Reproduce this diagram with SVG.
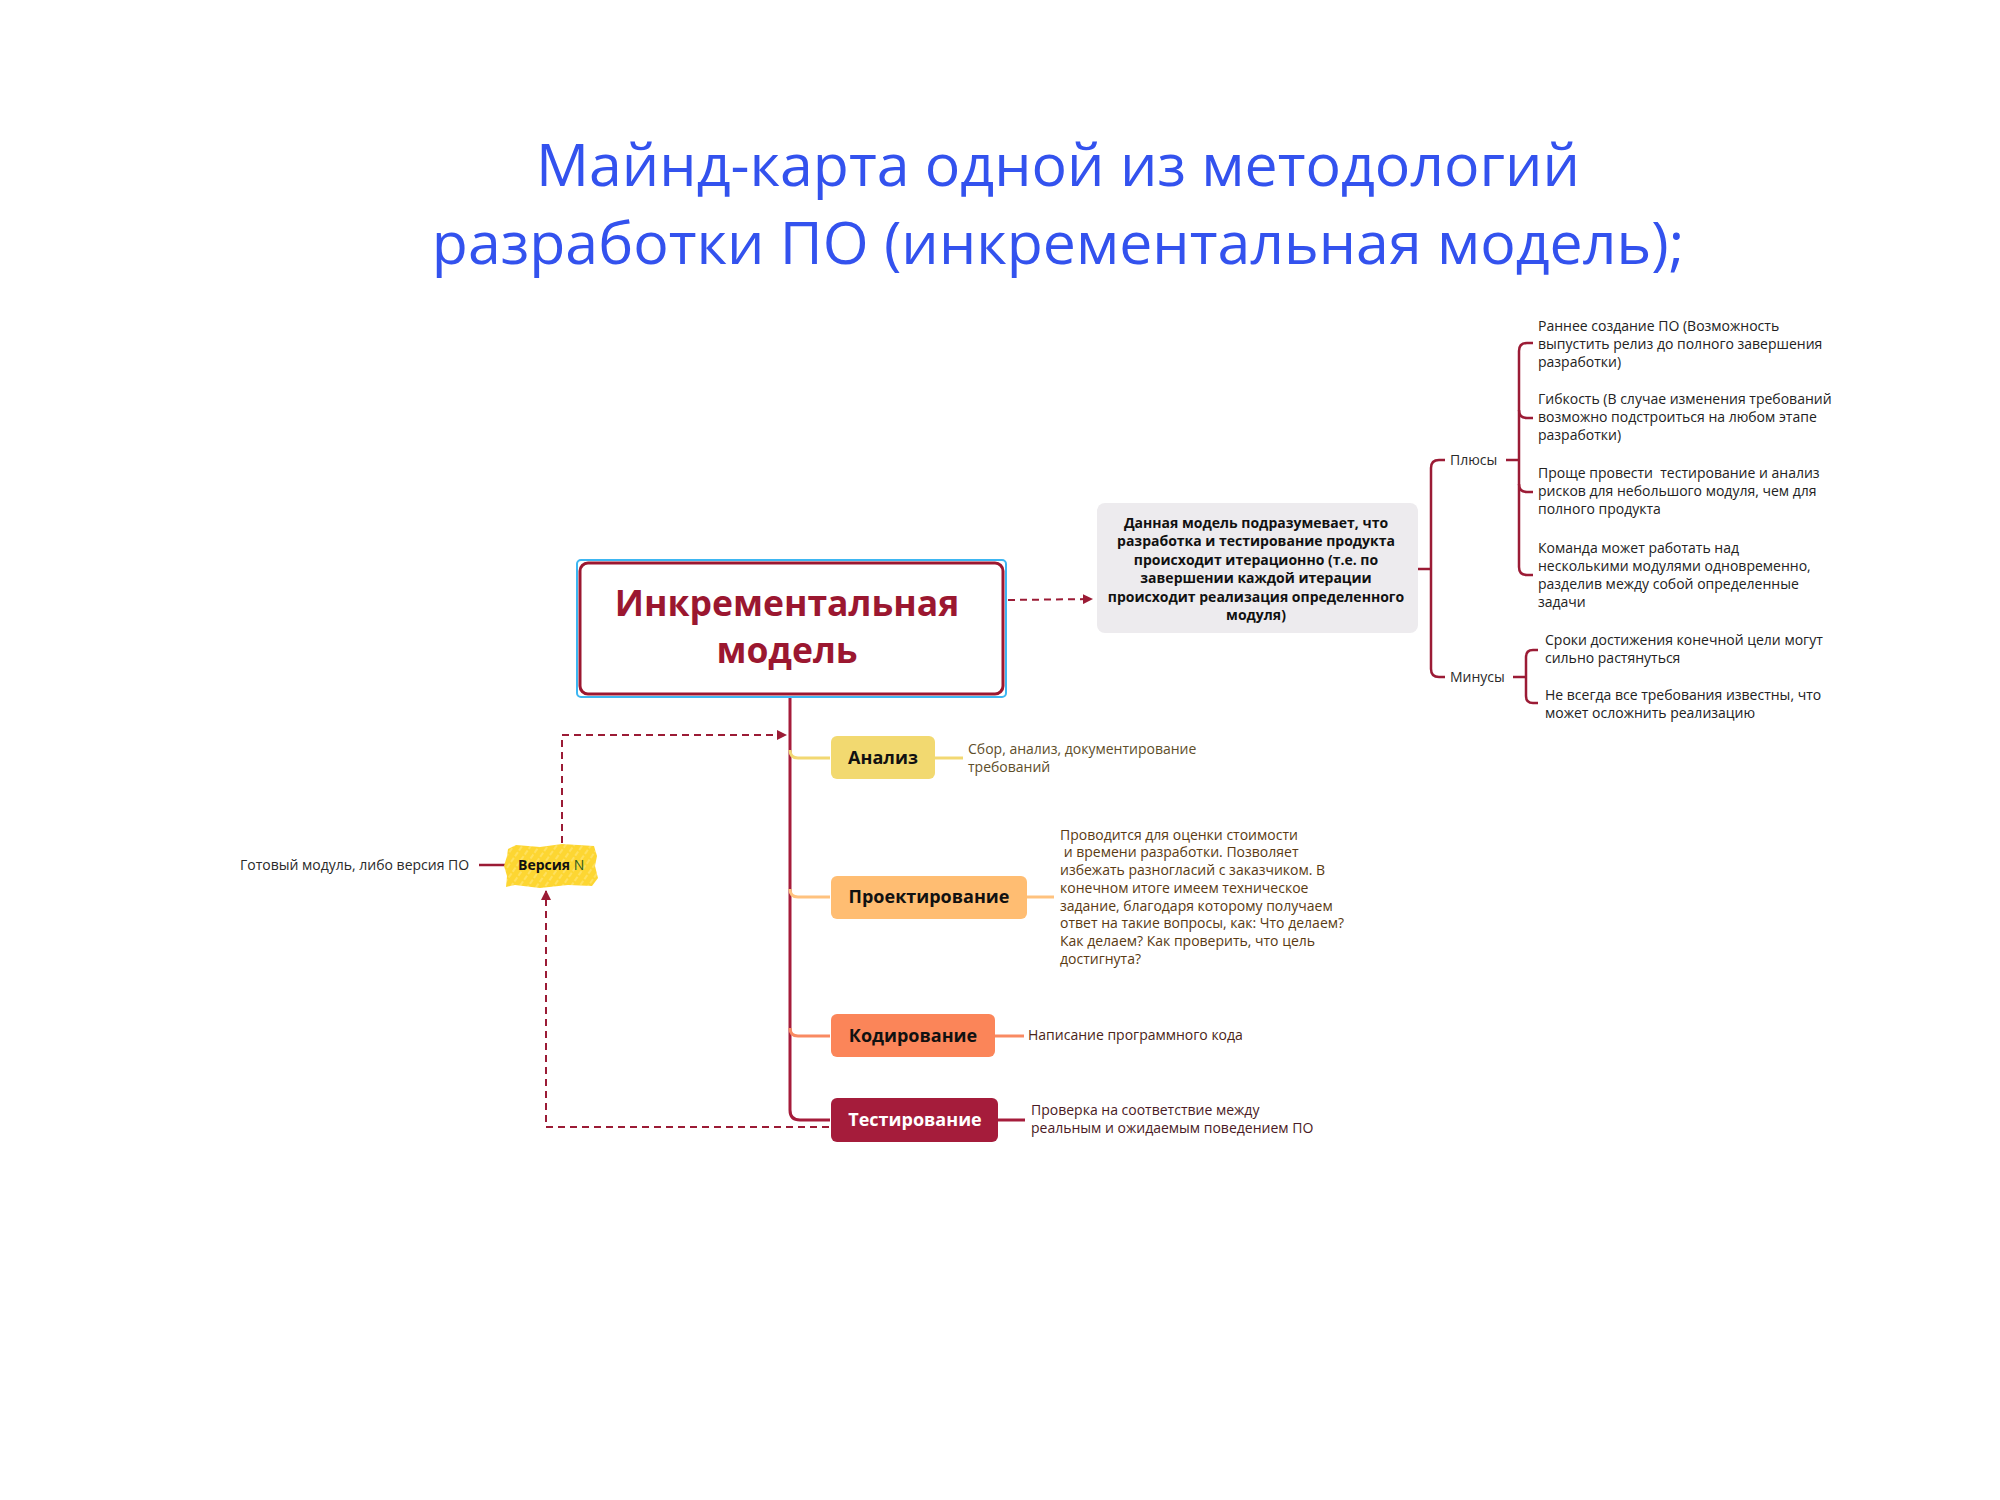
<svg xmlns="http://www.w3.org/2000/svg" width="2000" height="1500" viewBox="0 0 2000 1500">
<defs>
<style>
text{font-family:"Open Sans","Noto Sans","DejaVu Sans",sans-serif}
.title{font-size:59px;fill:#3352EE;text-anchor:middle}
.root{font-size:35.5px;font-weight:bold;fill:#9B1730;text-anchor:middle}
.desc{font-size:14px;font-weight:bold;fill:#111;text-anchor:middle}
.t{font-size:14px;fill:#222}
.lbl{font-size:14px;fill:#2a2a2a}
.node{font-size:18px;font-weight:bold;text-anchor:middle}
.dr{fill:none;stroke:#9B1B35;stroke-width:2.5}
.dash{fill:none;stroke:#9B1B35;stroke-width:2;stroke-dasharray:7,5}
</style>
<marker id="ah" viewBox="0 0 10 10" refX="9" refY="5" markerWidth="5" markerHeight="5" orient="auto">
<path d="M0,0 L10,5 L0,10 z" fill="#9B1B35"/>
</marker>
<pattern id="scrib" width="7" height="7" patternUnits="userSpaceOnUse" patternTransform="rotate(-55)">
<rect width="7" height="7" fill="#FDD632"/>
<line x1="0" y1="3" x2="7" y2="3" stroke="#FFF0A0" stroke-width="0.8" stroke-dasharray="5,2"/>
</pattern>
</defs>
<rect width="2000" height="1500" fill="#fff"/>

<g id="title">
<text class="title" x="1058" y="186">Майнд-карта одной из методологий</text>
<text class="title" x="1058" y="264">разработки ПО (инкрементальная модель);</text>
</g>

<g id="connectors">
<path class="dash" d="M1008,600 L1092,599" marker-end="url(#ah)"/>
<path class="dr" d="M1418,569 L1431,569"/>
<path class="dr" d="M1445,460 L1439,460 Q1431,460 1431,468 L1431,669 Q1431,677 1439,677 L1445,677"/>
<path class="dr" d="M1506,460 L1519,460"/>
<path class="dr" d="M1533,343 L1527,343 Q1519,343 1519,351 L1519,567 Q1519,575 1527,575 L1533,575"/>
<path class="dr" d="M1519,410 Q1519,418 1527,418 L1533,418"/>
<path class="dr" d="M1519,484 Q1519,492 1527,492 L1533,492"/>
<path class="dr" d="M1513,677 L1526,677"/>
<path class="dr" d="M1538,650 L1533,650 Q1526,650 1526,657 L1526,696 Q1526,703 1533,703 L1538,703"/>
<path d="M790,696 L790,1110 Q790,1120 800,1120 L830,1120" fill="none" stroke="#A51C3B" stroke-width="3"/>
<path d="M790,750 Q790,758 798,758 L830,758" fill="none" stroke="#F2D872" stroke-width="3"/>
<path d="M790,889 Q790,897 798,897 L830,897" fill="none" stroke="#FFC27E" stroke-width="3"/>
<path d="M790,1028 Q790,1036 798,1036 L830,1036" fill="none" stroke="#F98A62" stroke-width="3"/>
<path d="M935,758 L963,758" stroke="#F2D872" stroke-width="3"/>
<path d="M1027,897 L1054,897" stroke="#FFC27E" stroke-width="3"/>
<path d="M995,1036 L1024,1036" stroke="#F98A62" stroke-width="3"/>
<path d="M998,1120 L1025,1120" stroke="#A51C3B" stroke-width="3"/>
<path d="M479,865 L505,865" stroke="#9B1B35" stroke-width="2.5"/>
<path class="dash" d="M562,843 L562,735 L786,735" marker-end="url(#ah)"/>
<path class="dash" d="M829,1127 L546,1127 L546,891" marker-end="url(#ah)"/>
</g>

<g id="root">
<rect x="577" y="560" width="429" height="137" rx="4" fill="none" stroke="#3DB6F2" stroke-width="2"/>
<rect x="580" y="563" width="423" height="131" rx="8" fill="#fff" stroke="#9B1730" stroke-width="3"/>
<text class="root" x="787" y="616">Инкрементальная</text>
<text class="root" x="787" y="663">модель</text>
</g>

<g id="description">
<rect x="1097" y="503" width="321" height="130" rx="8" fill="#EDEBEE"/>
<text class="desc" x="1256" y="528">Данная модель подразумевает, что</text>
<text class="desc" x="1256" y="546">разработка и тестирование продукта</text>
<text class="desc" x="1256" y="565">происходит итерационно (т.е. по</text>
<text class="desc" x="1256" y="583">завершении каждой итерации</text>
<text class="desc" x="1256" y="602">происходит реализация определенного</text>
<text class="desc" x="1256" y="620">модуля)</text>
</g>

<g id="plus">
<text class="lbl" x="1450" y="465">Плюсы</text>
</g>
<g id="plus1">
<text class="t" x="1538" y="331">Раннее создание ПО (Возможность</text>
<text class="t" x="1538" y="349">выпустить релиз до полного завершения</text>
<text class="t" x="1538" y="367">разработки)</text>
</g>
<g id="plus2">
<text class="t" x="1538" y="404">Гибкость (В случае изменения требований</text>
<text class="t" x="1538" y="422">возможно подстроиться на любом этапе</text>
<text class="t" x="1538" y="440">разработки)</text>
</g>
<g id="plus3">
<text class="t" x="1538" y="478" xml:space="preserve">Проще провести  тестирование и анализ</text>
<text class="t" x="1538" y="496">рисков для небольшого модуля, чем для</text>
<text class="t" x="1538" y="514">полного продукта</text>
</g>
<g id="plus4">
<text class="t" x="1538" y="553">Команда может работать над</text>
<text class="t" x="1538" y="571">несколькими модулями одновременно,</text>
<text class="t" x="1538" y="589">разделив между собой определенные</text>
<text class="t" x="1538" y="607">задачи</text>
</g>

<g id="minus">
<text class="lbl" x="1450" y="682">Минусы</text>
</g>
<g id="minus1">
<text class="t" x="1545" y="645">Сроки достижения конечной цели могут</text>
<text class="t" x="1545" y="663">сильно растянуться</text>
</g>
<g id="minus2">
<text class="t" x="1545" y="700">Не всегда все требования известны, что</text>
<text class="t" x="1545" y="718">может осложнить реализацию</text>
</g>

<g id="analysis">
<rect x="831" y="736" width="104" height="43" rx="6" fill="#F2D970"/>
<text class="node" x="883" y="764" fill="#111">Анализ</text>
</g>
<g id="analysis-note">
<text class="t" x="968" y="754" style="fill:#5E4E2A">Сбор, анализ, документирование</text>
<text class="t" x="968" y="772" style="fill:#5E4E2A">требований</text>
</g>

<g id="design">
<rect x="831" y="876" width="196" height="43" rx="6" fill="#FFBD72"/>
<text class="node" x="929" y="903" fill="#111">Проектирование</text>
</g>
<g id="design-note">
<text class="t" x="1060" y="840" style="fill:#5A3A12">Проводится для оценки стоимости</text>
<text class="t" x="1060" y="857" style="fill:#5A3A12" xml:space="preserve"> и времени разработки. Позволяет</text>
<text class="t" x="1060" y="875" style="fill:#5A3A12">избежать разногласий с заказчиком. В</text>
<text class="t" x="1060" y="893" style="fill:#5A3A12">конечном итоге имеем техническое</text>
<text class="t" x="1060" y="911" style="fill:#5A3A12">задание, благодаря которому получаем</text>
<text class="t" x="1060" y="928" style="fill:#5A3A12">ответ на такие вопросы, как: Что делаем?</text>
<text class="t" x="1060" y="946" style="fill:#5A3A12">Как делаем? Как проверить, что цель</text>
<text class="t" x="1060" y="964" style="fill:#5A3A12">достигнута?</text>
</g>

<g id="coding">
<rect x="831" y="1014" width="164" height="43" rx="6" fill="#FB8559"/>
<text class="node" x="913" y="1042" fill="#111">Кодирование</text>
</g>
<g id="coding-note">
<text class="t" x="1028" y="1040" style="fill:#4A2418">Написание программного кода</text>
</g>

<g id="testing">
<rect x="831" y="1098" width="167" height="44" rx="6" fill="#A51C3B"/>
<text class="node" x="915" y="1126" fill="#fff">Тестирование</text>
</g>
<g id="testing-note">
<text class="t" x="1031" y="1115" style="fill:#4A1A24">Проверка на соответствие между</text>
<text class="t" x="1031" y="1133" style="fill:#4A1A24">реальным и ожидаемым поведением ПО</text>
</g>

<g id="version">
<path d="M508,849 L516,845 L540,847 L562,844 L594,846 L597,856 L595,866 L598,878 L592,886 L568,885 L540,888 L515,885 L506,887 L507,876 L504,866 L507,856 Z" fill="url(#scrib)"/>
<text x="518" y="870" style="font-size:14px"><tspan font-weight="bold" fill="#111">Версия</tspan><tspan fill="#2F5A1E"> N</tspan></text>
</g>
<g id="version-note">
<text class="lbl" x="240" y="870">Готовый модуль, либо версия ПО</text>
</g>
</svg>
